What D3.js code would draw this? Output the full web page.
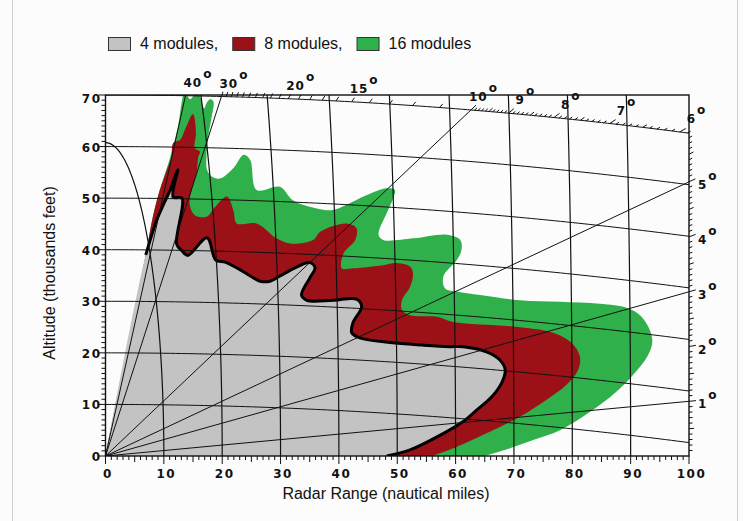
<!DOCTYPE html>
<html>
<head>
<meta charset="utf-8">
<script src="https://cdn.jsdelivr.net/npm/d3@7"></script>
<style>
  body { margin: 0; background: #fcfcfc; }
  svg { display: block; }
</style>
</head>
<body>
<svg id="chart"></svg>
<script>
// coverage outlines: [range nm, altitude kft]
const cover16 = [[0,0],[6.9,39.0],[8.1,46.3],[9.3,51.6],[11.1,58.0],[12.4,63.8],[13.6,70.5],[14.5,69.2],[15.6,70.5],[16.2,69.7],[16.9,67.4],[17.3,68.4],[17.9,69.2],[18.5,68.7],[18.2,65.8],[17.6,61.9],[17.3,58.0],[17.4,55.5],[18.2,54.2],[19.6,53.8],[21.9,55.8],[23.7,58.4],[24.8,57.4],[25.9,51.6],[29.9,52.2],[32.1,49.6],[36.2,48.0],[39.0,47.7],[41.3,48.7],[44.8,50.6],[48.2,51.9],[49.6,51.6],[49.3,50.0],[48.2,47.1],[46.8,42.9],[47.6,41.9],[52.8,42.2],[58.5,42.9],[60.8,41.9],[61.0,39.9],[60.2,38.0],[57.9,34.8],[58.2,32.5],[60.2,31.9],[64.2,31.2],[71.0,30.2],[77.9,29.9],[84.7,29.5],[89.4,28.7],[91.6,27.3],[93.3,24.4],[93.7,21.9],[92.8,19.2],[90.4,15.7],[87.3,12.2],[83.5,8.9],[77.9,5.0],[73.3,3.1],[68.8,1.3],[65.0,0]];
const cover8 = [[0,0],[6.9,39.0],[8.1,46.3],[9.3,51.6],[10.7,56.0],[11.3,58.0],[11.6,60.7],[12.8,61.3],[13.6,63.2],[15.0,66.3],[15.5,62.6],[15.3,59.7],[16.2,59.0],[15.9,58.0],[15.6,54.8],[14.8,51.6],[14.4,49.0],[15.3,46.7],[17.3,46.4],[18.8,48.3],[20.8,50.3],[21.9,47.7],[22.5,45.1],[25.9,45.1],[29.3,42.2],[31.6,41.2],[35.6,41.9],[36.8,43.5],[41.3,45.1],[43.0,44.2],[42.8,41.9],[40.8,39.3],[40.5,36.4],[42.5,36.4],[47.6,37.0],[49.9,37.4],[52.2,36.7],[52.7,35.4],[52.2,32.8],[50.8,30.2],[50.8,28.3],[52.2,27.3],[56.8,27.0],[59.6,26.0],[69.8,25.1],[76.7,23.9],[79.9,21.9],[81.3,19.3],[81.0,16.7],[79.0,13.8],[75.6,10.9],[71.0,7.6],[65.3,4.4],[59.6,1.5],[56.0,0]];
const cover4 = [[0,0],[6.9,39.0],[8.8,45.8],[9.9,48.7],[11.1,51.6],[12.4,55.5],[11.6,50.2],[13.1,50.0],[12.2,41.1],[13.1,39.8],[14.1,38.9],[17.4,42.3],[18.9,38.0],[20.5,37.6],[23.1,36.1],[24.8,34.9],[26.5,33.9],[28.2,33.9],[29.9,34.9],[32.5,36.5],[35.0,37.5],[35.9,36.5],[35.0,34.5],[33.6,31.2],[34.5,30.2],[39.0,30.2],[43.0,30.4],[43.9,29.0],[42.4,25.8],[42.2,23.9],[43.6,22.9],[48.8,22.0],[54.4,21.5],[59.0,21.2],[61.3,21.2],[65.3,20.2],[67.6,18.6],[68.5,16.7],[67.9,14.2],[66.2,11.5],[63.6,8.9],[61.3,6.7],[56.8,3.7],[52.2,1.2],[48.2,0]];

const seriesNames = ['4 modules,', '8 modules,', '16 modules'];
const rangeTicks = [0, 10, 20, 30, 40, 50, 60, 70, 80, 90, 100];
const altTicks = [0, 10, 20, 30, 40, 50, 60, 70];
const rangeCircles = [10, 20, 30, 40, 50, 60, 70, 80, 90];
const altLines = [10, 20, 30, 40, 50, 60, 70];
const rayAngles = [1, 3, 5, 10, 30, 40];
const topAngleLabels = [40, 30, 20, 15, 10, 9, 8, 7, 6];
const sideAngleLabels = [5, 4, 3, 2, 1];

const KFT_PER_NM = 6.076;
const DROOP = 0.00074;   // earth curvature, kft per nm^2
const TOP = 70;

const colors = ['#c3c3c3', '#9c1117', '#2fb04b'];

const svg = d3.select('#chart').attr('width', 743).attr('height', 521);

const x = d3.scaleLinear().domain([0, 100]).range([105.5, 689]);
const y = d3.scaleLinear().domain([0, 70]).range([456, 95]);

// outer panel border
svg.append('rect')
    .attr('x', 12.5).attr('y', -2).attr('width', 725).attr('height', 540)
    .attr('fill', 'none').attr('stroke', '#cfcfcf');

svg.append('clipPath').attr('id', 'plot')
    .append('rect')
    .attr('x', x(0)).attr('y', y(70))
    .attr('width', x(100) - x(0)).attr('height', y(0) - y(70));

const plot = svg.append('g').attr('clip-path', 'url(#plot)');

const line = d3.line()
    .x(d => x(d[0]))
    .y(d => y(d[1]))
    .curve(d3.curveCatmullRom.alpha(0.5));
const straight = d3.line().x(d => x(d[0])).y(d => y(d[1]));

// coverage areas
[cover16, cover8, cover4].forEach((pts, i) => {
    plot.append('path')
        .attr('d', line(pts) + 'Z')
        .attr('fill', colors[2 - i]);
});
plot.append('path')
    .attr('d', line(cover4.slice(1)))
    .attr('fill', 'none')
    .attr('stroke', '#000')
    .attr('stroke-width', 3)
    .attr('stroke-linejoin', 'round');

// constant altitude curves
altLines.forEach(h => {
    const pts = d3.range(0, 100.5, 1).map(r => [r, h - DROOP * r * r]);
    plot.append('path')
        .attr('d', straight(pts))
        .attr('fill', 'none').attr('stroke', '#111').attr('stroke-width', 1);
});

// constant slant range curves
rangeCircles.forEach(R => {
    const pts = d3.range(0, 90.5, 1).map(t => {
        const a = t * Math.PI / 180;
        return [R * Math.cos(a), R * Math.sin(a) * KFT_PER_NM];
    });
    plot.append('path')
        .attr('d', straight(pts))
        .attr('fill', 'none').attr('stroke', '#111').attr('stroke-width', 1.2);
});

// elevation rays
function slope(a) { return KFT_PER_NM * Math.tan(a * Math.PI / 180); }
function rayEnd(a) {
    const k = slope(a);
    let r = (-k + Math.sqrt(k * k + 4 * DROOP * TOP)) / (2 * DROOP);
    if (r > 100) r = 100;
    return [r, k * r];
}
rayAngles.forEach(a => {
    plot.append('path')
        .attr('d', straight([[0, 0], rayEnd(a)]))
        .attr('stroke', '#111').attr('stroke-width', 1);
});

// elevation ticks on the 70 kft curve and the right edge
const tickAngles = d3.range(30, 10, -1).concat(d3.range(100, 0, -1).map(v => v / 10));
tickAngles.forEach(a => {
    const p = rayEnd(a);
    const px = x(p[0]), py = y(p[1]);
    const dx = x(1) - x(0), dy = y(slope(a)) - y(0);
    const n = Math.hypot(dx, dy);
    const tenth = Math.round(a * 10);
    let len = 3.5;
    if (a > 10) len = 5;
    else if (tenth % 10 === 0) len = 7;
    else if (tenth % 5 === 0) len = 5;
    svg.append('line')
        .attr('x1', px).attr('y1', py)
        .attr('x2', px + len * dx / n).attr('y2', py + len * dy / n)
        .attr('stroke', '#111').attr('stroke-width', 1);
});

// frame
svg.append('rect')
    .attr('x', x(0)).attr('y', y(70))
    .attr('width', x(100) - x(0)).attr('height', y(0) - y(70))
    .attr('fill', 'none').attr('stroke', '#111').attr('stroke-width', 1.4);

const labelFont = (g, ls) => g
    .attr('font-family', '"DejaVu Sans", Verdana, sans-serif')
    .attr('font-weight', 'bold')
    .attr('font-size', 12)
    .attr('letter-spacing', ls)
    .attr('fill', '#111');

// bottom axis ticks
d3.range(0, 101, 1).forEach(v => {
    const len = v % 10 === 0 ? 8 : (v % 5 === 0 ? 6 : 4);
    svg.append('line')
        .attr('x1', x(v)).attr('x2', x(v))
        .attr('y1', y(0)).attr('y2', y(0) + len)
        .attr('stroke', '#111');
});
svg.append('g').call(labelFont, 1.5)
    .selectAll('text').data(rangeTicks).enter().append('text')
    .attr('x', d => x(d) + 2.5)
    .attr('y', y(0) + 22)
    .attr('text-anchor', 'middle')
    .text(d => d);

// left axis ticks
d3.range(0, 71, 1).forEach(v => {
    const len = v % 10 === 0 ? 7 : 4;
    svg.append('line')
        .attr('x1', x(0) - len).attr('x2', x(0))
        .attr('y1', y(v)).attr('y2', y(v))
        .attr('stroke', '#111');
});
svg.append('g').call(labelFont, 1.5)
    .selectAll('text').data(altTicks).enter().append('text')
    .attr('x', x(0) - 4)
    .attr('y', d => Math.max(y(d) + 5, y(70) + 8))
    .attr('text-anchor', 'end')
    .text(d => d);

// elevation angle labels
const degLabels = svg.append('g').call(labelFont, 1);
topAngleLabels.forEach(a => {
    const p = rayEnd(a);
    const two = String(a).length > 1;
    const t = degLabels.append('text')
        .attr('x', x(p[0]) + (two ? -2 : 7))
        .attr('y', y(p[1]) - 9);
    t.append('tspan').text(a);
    t.append('tspan').attr('dx', 1).attr('dy', -9).text('o');
});
sideAngleLabels.forEach(a => {
    const p = rayEnd(a);
    const t = degLabels.append('text')
        .attr('x', x(100) + 9)
        .attr('y', y(p[1]) + 7);
    t.append('tspan').text(a);
    t.append('tspan').attr('dx', 1).attr('dy', -9).text('o');
});

// axis titles
svg.append('text')
    .attr('x', 386).attr('y', 499)
    .attr('text-anchor', 'middle')
    .attr('font-family', '"Liberation Sans", Arial, sans-serif')
    .attr('font-size', 16).attr('fill', '#111')
    .text('Radar Range (nautical miles)');
svg.append('text')
    .attr('transform', 'translate(55,273) rotate(-90)')
    .attr('text-anchor', 'middle')
    .attr('font-family', '"Liberation Sans", Arial, sans-serif')
    .attr('font-size', 16).attr('fill', '#111')
    .text('Altitude (thousands feet)');

// legend
let cx = 108;
seriesNames.forEach((name, i) => {
    svg.append('rect')
        .attr('x', cx + 0.5).attr('y', 37.5)
        .attr('width', 22).attr('height', 13)
        .attr('fill', colors[i]).attr('stroke', '#333');
    const t = svg.append('text')
        .attr('x', cx + 32).attr('y', 49)
        .attr('font-family', '"Liberation Sans", Arial, sans-serif')
        .attr('font-size', 16).attr('fill', '#111')
        .text(name);
    cx = cx + 32 + t.node().getComputedTextLength() + 14;
});
</script>
</body>
</html>
